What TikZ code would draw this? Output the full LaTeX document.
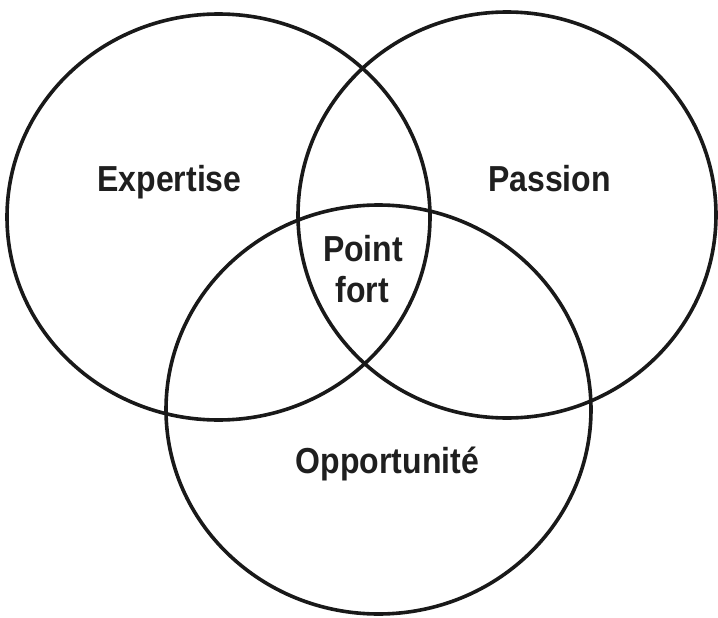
\documentclass[tikz,border=0pt]{standalone}
\usepackage{fontspec}
\usepackage{graphicx}
\setmainfont{Liberation Sans}
\newcommand{\tallt}[1]{\scalebox{1.0}[1.13]{#1}}
\begin{document}
\begin{tikzpicture}[x=1pt,y=-1pt,
  venn/.style={draw=black!90, line width=3.6pt},
  lbl/.style={font=\bfseries\fontsize{32}{36}\selectfont, text=black!88, anchor=base, inner sep=0pt}]
\useasboundingbox (0,0) rectangle (718,618);
\draw[venn] (218.5,217) ellipse [x radius=211.5, y radius=203];
\draw[venn] (507,215) ellipse [x radius=209, y radius=203];
\draw[venn] (378.5,409.5) ellipse [x radius=212.5, y radius=204.5];
\node[lbl] (exp) at (169.5,191) {\tallt{Expertise}};
\node[lbl] (pas) at (549.5,191) {\tallt{Passion}};
\node[lbl] (pt1) at (363,261.5) {\tallt{Point}};
\node[lbl] (pt2) at (362,302.5) {\tallt{fort}};
\node[lbl] (opp) at (387.5,473) {\tallt{Opportunité}};
\end{tikzpicture}
\end{document}
